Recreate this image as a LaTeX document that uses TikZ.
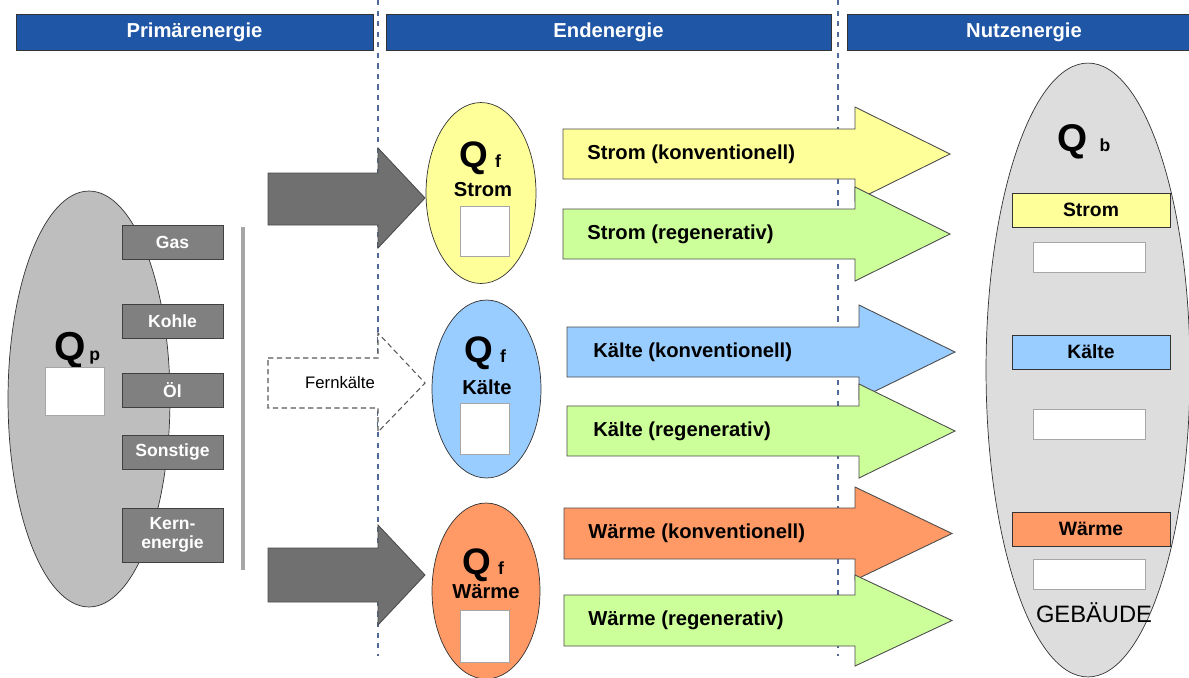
\documentclass[tikz,border=0pt]{standalone}
\usepackage{fontspec}
\setmainfont{Liberation Sans}
\usetikzlibrary{shapes.geometric}
\definecolor{hdrblue}{RGB}{31,86,166}
\definecolor{sepblue}{RGB}{80,105,150}
\definecolor{primgray}{RGB}{190,190,190}
\definecolor{usegray}{RGB}{221,221,221}
\definecolor{boxgray}{RGB}{128,128,128}
\definecolor{arrowgray}{RGB}{112,112,112}
\definecolor{stromyellow}{RGB}{255,255,153}
\definecolor{regengreen}{RGB}{204,255,153}
\definecolor{kaelteblue}{RGB}{153,204,255}
\definecolor{waermeorange}{RGB}{255,153,102}
\tikzset{header/.style={draw=black!80, fill=hdrblue, text=white, inner sep=0pt, minimum height=0.72cm, font=\fontsize{11.5}{13}\selectfont\bfseries},
  carrier/.style={draw=black!75, fill=boxgray, text=white, inner sep=0pt, align=center, minimum width=2.02cm, minimum height=0.68cm, font=\fontsize{10}{11}\selectfont\bfseries},
  blank/.style={draw=black!35, fill=white, inner sep=0pt},
  oval/.style={ellipse, draw=black!80, inner sep=0pt},
  flow/.style={draw=black!70, line width=0.5pt},
  flowtext/.style={anchor=west, inner sep=0pt, font=\fontsize{11.5}{13}\selectfont\bfseries},
  qsym/.style={anchor=base west, inner sep=0pt, font=\bfseries},
  sep/.style={sepblue, line width=0.6pt, dash pattern=on 3pt off 3pt}}

\begin{document}
\begin{tikzpicture}[x=0.02cm, y=-0.02cm]
  \useasboundingbox (0,0) rectangle (1189,677);
  \fill[white] (0,0) rectangle (1189,677);
  \draw[sep] (378,0) -- (378,656);
  \draw[sep] (838,0) -- (838,656);
  \node[header, minimum width=7.14cm] (hprim) at (194.5,32) {Primärenergie};
  \node[header, minimum width=8.90cm] (hend)  at (608.5,32) {Endenergie};
  \node[header, minimum width=7.08cm] (hnutz) at (1024,32)  {Nutzenergie};

  \node[oval, fill=primgray, minimum width=3.24cm, minimum height=8.32cm] (prim) at (89,399) {};
  \node[qsym, font=\fontsize{23}{23}\selectfont\bfseries] (qp) at (54,360) {Q\hspace{2pt}{\fontsize{10}{10}\selectfont p}};
  \node[blank, minimum width=1.18cm, minimum height=0.96cm] (wp) at (74.5,391) {};
  \node[carrier] (gas)   at (172.5,242) {Gas};
  \node[carrier] (kohle) at (172.5,321) {Kohle};
  \node[carrier] (oel)   at (172.5,390) {Öl};
  \node[carrier] (sonst) at (172.5,452) {Sonstige};
  \node[carrier, minimum height=1.08cm] (kern) at (172.5,535) {Kern-\\energie};
  \draw[black!35, line width=2.3pt] (243,227) -- (243,570);

  \draw[flow, fill=arrowgray] (268,173) -- (378,173) -- (378,148) -- (425,198) -- (378,248) -- (378,225) -- (268,225) -- cycle;
  \draw[flow, fill=arrowgray] (268,548) -- (378,548) -- (378,525) -- (425,575) -- (378,625) -- (378,602) -- (268,602) -- cycle;
  \draw[black!65, line width=0.6pt, dash pattern=on 3pt off 2pt, fill=white] (268,358) -- (378,358) -- (378,333) -- (425,383) -- (378,432) -- (378,408) -- (268,408) -- cycle;
  \node[inner sep=0pt, font=\fontsize{9.5}{11}\selectfont] (fern) at (340,383) {Fernkälte};

  \node[oval, fill=stromyellow, minimum width=2.20cm, minimum height=3.62cm] (fstrom) at (481,193) {};
  \node[qsym, font=\fontsize{21}{21}\selectfont\bfseries] (qfs) at (459,167) {Q\hspace{4pt}{\fontsize{10}{10}\selectfont f}};
  \node[inner sep=0pt, font=\fontsize{11.5}{13}\selectfont\bfseries] (ls) at (483,190) {Strom};
  \node[blank, minimum width=0.98cm, minimum height=1.0cm] (ws) at (484.5,231) {};

  \node[oval, fill=kaelteblue, minimum width=2.18cm, minimum height=3.56cm] (fkaelte) at (486.5,389) {};
  \node[qsym, font=\fontsize{21}{21}\selectfont\bfseries] (qfk) at (464,362) {Q\hspace{4pt}{\fontsize{10}{10}\selectfont f}};
  \node[inner sep=0pt, font=\fontsize{11.5}{13}\selectfont\bfseries] (lk) at (487,387) {Kälte};
  \node[blank, minimum width=0.98cm, minimum height=1.02cm] (wk) at (485,428.5) {};

  \node[oval, fill=waermeorange, minimum width=2.16cm, minimum height=3.52cm] (fwaerme) at (486,591) {};
  \node[qsym, font=\fontsize{21}{21}\selectfont\bfseries] (qfw) at (462,574) {Q\hspace{4pt}{\fontsize{10}{10}\selectfont f}};
  \node[inner sep=0pt, font=\fontsize{11.5}{13}\selectfont\bfseries] (lw) at (486,592) {Wärme};
  \node[blank, minimum width=0.98cm, minimum height=1.04cm] (ww) at (485,636) {};

  \draw[flow, fill=stromyellow] (563,129) -- (855,129) -- (855,107) -- (950,154) -- (855,201) -- (855,179) -- (563,179) -- cycle;
  \draw[flow, fill=regengreen] (563,209) -- (855,209) -- (855,187) -- (950,234) -- (855,281) -- (855,259) -- (563,259) -- cycle;
  \draw[flow, fill=kaelteblue] (567,327) -- (859,327) -- (859,305) -- (955,352) -- (859,399) -- (859,377) -- (567,377) -- cycle;
  \draw[flow, fill=regengreen] (567,406) -- (859,406) -- (859,384) -- (955,431) -- (859,478) -- (859,456) -- (567,456) -- cycle;
  \draw[flow, fill=waermeorange] (564,508) -- (855,508) -- (855,487) -- (952,533.5) -- (855,580) -- (855,559) -- (564,559) -- cycle;
  \draw[flow, fill=regengreen] (564,595) -- (855,595) -- (855,575) -- (952,620.5) -- (855,666) -- (855,646) -- (564,646) -- cycle;
  \node[flowtext] (tsk) at (587,154)   {Strom (konventionell)};
  \node[flowtext] (tsr) at (587,234)   {Strom (regenerativ)};
  \node[flowtext] (tkk) at (593,352)   {Kälte (konventionell)};
  \node[flowtext] (tkr) at (593,431)   {Kälte (regenerativ)};
  \node[flowtext] (twk) at (588,533.5) {Wärme (konventionell)};
  \node[flowtext] (twr) at (588,620.5) {Wärme (regenerativ)};

  \node[oval, fill=usegray, minimum width=4.08cm, minimum height=12.28cm] (geb) at (1088,370) {};
  \node[qsym, font=\fontsize{22}{22}\selectfont\bfseries] (qb) at (1057,151) {Q\hspace{7pt}{\fontsize{10}{10}\selectfont b}};
  \node[draw=black!80, fill=stromyellow, minimum width=3.16cm, minimum height=0.68cm, inner sep=0pt, font=\fontsize{11}{13}\selectfont\bfseries] (bs) at (1091,210) {Strom};
  \node[blank, minimum width=2.24cm, minimum height=0.60cm] (bws) at (1089,257) {};
  \node[draw=black!80, fill=kaelteblue, minimum width=3.16cm, minimum height=0.68cm, inner sep=0pt, font=\fontsize{11}{13}\selectfont\bfseries] (bk) at (1091,352) {Kälte};
  \node[blank, minimum width=2.24cm, minimum height=0.60cm] (bwk) at (1089,424) {};
  \node[draw=black!80, fill=waermeorange, minimum width=3.16cm, minimum height=0.68cm, inner sep=0pt, font=\fontsize{11}{13}\selectfont\bfseries] (bw) at (1091,529) {Wärme};
  \node[blank, minimum width=2.24cm, minimum height=0.60cm] (bww) at (1089,574) {};
  \node[inner sep=0pt, font=\fontsize{13.5}{15}\selectfont] (gebtext) at (1094,613) {GEBÄUDE};
\end{tikzpicture}
\end{document}
